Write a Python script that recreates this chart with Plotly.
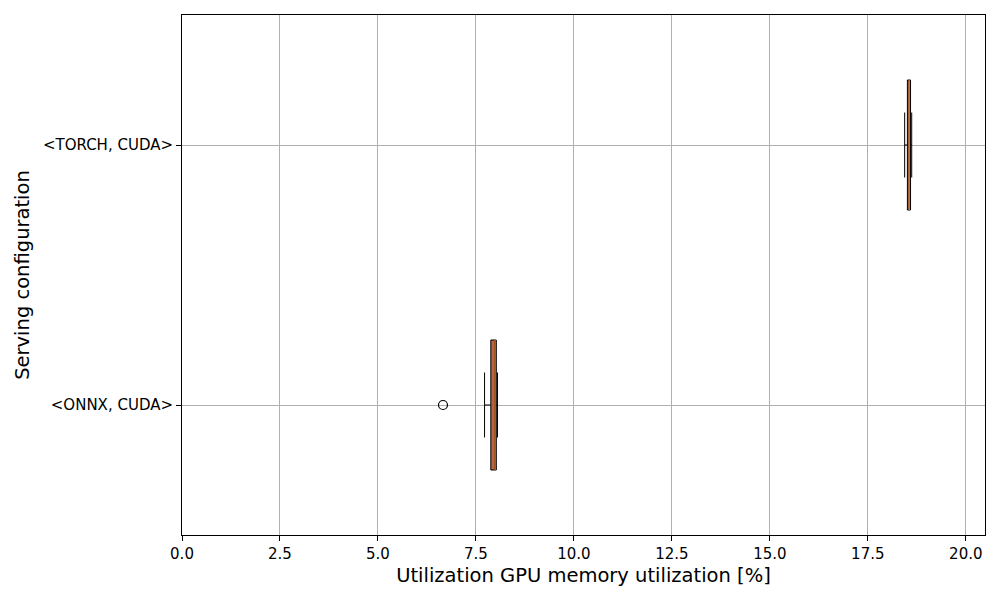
import plotly.graph_objects as go

# per-configuration box statistics (GPU memory utilization, %)
configs = ["<ONNX, CUDA>", "<TORCH, CUDA>"]
positions = [1, 2]
q1 = [7.88, 18.51]
median = [7.99, 18.56]
q3 = [8.02, 18.59]
lower = [7.72, 18.44]
upper = [8.05, 18.62]
outlier_x = [6.66]
outlier_y = [1]

BOX_FILL = "#b4644a"
MEDIAN = "#ff7f0e"

fig = go.Figure()

for i, name in enumerate(configs):
    fig.add_trace(go.Box(
        orientation="h",
        y=[positions[i]],
        q1=[q1[i]], median=[median[i]], q3=[q3[i]],
        lowerfence=[lower[i]], upperfence=[upper[i]],
        width=0.5, whiskerwidth=0.5,
        fillcolor=BOX_FILL,
        line=dict(color="black", width=1),
        boxpoints=False,
        showlegend=False,
        hoverinfo="skip",
    ))
    # orange median line drawn on top
    fig.add_trace(go.Scatter(
        x=[median[i], median[i]],
        y=[positions[i] - 0.25, positions[i] + 0.25],
        mode="lines",
        line=dict(color=MEDIAN, width=1),
        showlegend=False,
        hoverinfo="skip",
    ))

fig.add_trace(go.Scatter(
    x=outlier_x, y=outlier_y, mode="markers",
    marker=dict(symbol="circle-open", size=9, color="black", line=dict(width=1.2)),
    showlegend=False,
))

axis_common = dict(
    showline=True, linecolor="black", linewidth=1, mirror=True,
    ticks="outside", ticklen=5, tickcolor="black",
    showgrid=True, gridcolor="#b0b0b0", gridwidth=1,
    zeroline=False,
    tickfont=dict(family="DejaVu Sans", size=15, color="black"),
)

fig.update_xaxes(
    range=[0, 20.49],
    tickvals=[0, 2.5, 5, 7.5, 10, 12.5, 15, 17.5, 20],
    ticktext=["0.0", "2.5", "5.0", "7.5", "10.0", "12.5", "15.0", "17.5", "20.0"],
    title=dict(text="Utilization GPU memory utilization [%]",
               font=dict(family="DejaVu Sans", size=19.5, color="black"), standoff=6),
    **axis_common,
)
fig.update_yaxes(
    range=[0.5, 2.5],
    tickvals=positions,
    ticktext=[c.replace("<", "&lt;").replace(">", "&gt;") for c in configs],
    title=dict(text="Serving configuration",
               font=dict(family="DejaVu Sans", size=19.5, color="black"), standoff=8),
    **axis_common,
)

# page body has an 8px margin, so the figure is 984x584 to fill 1000x600
fig.update_layout(
    width=984, height=584,
    margin=dict(l=174, r=7, t=7, b=57),
    plot_bgcolor="white", paper_bgcolor="white",
)

fig.write_html("out.html")
